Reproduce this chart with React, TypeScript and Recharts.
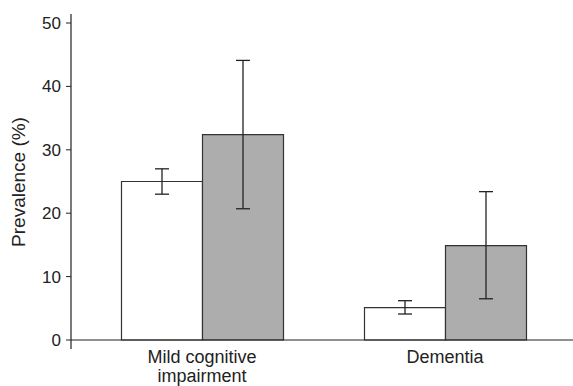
import React from "react";
import { BarChart, Bar, XAxis, YAxis, ErrorBar, ReferenceLine } from "recharts";

const categories = ["Mild cognitive impairment", "Dementia"];
const tickLines = [["Mild cognitive", "impairment"], ["Dementia"]];
const whiteValues = [25.0, 5.1];
const whiteErrLow = [2.0, 1.0];
const whiteErrHigh = [2.0, 1.1];
const greyValues = [32.4, 14.9];
const greyErrLow = [11.7, 8.4];
const greyErrHigh = [11.7, 8.5];
const yTicks = [0, 10, 20, 30, 40, 50];

const data = categories.map((name, i) => ({
  name,
  white: whiteValues[i],
  whiteErr: [whiteErrLow[i], whiteErrHigh[i]],
  grey: greyValues[i],
  greyErr: [greyErrLow[i], greyErrHigh[i]],
}));

const FONT = "'Liberation Sans', Arial, Helvetica, sans-serif";

// two-line category labels, like the original figure
function CategoryTick(props: any) {
  const { x, y, index } = props;
  const lines = tickLines[index] || [];
  return (
    <text x={x} y={y + 14} textAnchor="middle" fill="#222" fontSize={18} fontFamily={FONT}>
      {lines.map((t, i) => (
        <tspan key={i} x={x} dy={i === 0 ? 0 : 19}>
          {t}
        </tspan>
      ))}
    </text>
  );
}

function YLabel() {
  return (
    <text
      x={18}
      y={182}
      transform="rotate(-90, 18, 182)"
      textAnchor="middle"
      dominantBaseline="central"
      fill="#222"
      fontSize={19}
      fontFamily={FONT}
    >
      Prevalence (%)
    </text>
  );
}

export default function App() {
  return (
    <div style={{ position: "absolute", left: 0, top: 0, background: "#fff" }}>
      <BarChart
        width={573}
        height={386}
        data={data}
        margin={{ top: 14, right: 0, bottom: 0, left: 11 }}
        barGap={0}
        barSize={81}
      >
        <XAxis
          dataKey="name"
          height={37}
          axisLine={false}
          tickLine={false}
          tickSize={0}
          tickMargin={0}
          padding={{ left: 9.5, right: 6.5 }}
          tick={<CategoryTick />}
          interval={0}
        />
        <YAxis
          width={60}
          domain={[0, 50]}
          ticks={yTicks}
          padding={{ top: 9, bottom: 9 }}
          axisLine={{ stroke: "#222", strokeWidth: 1.2 }}
          tickLine={{ stroke: "#222" }}
          tickSize={5}
          tickMargin={5}
          tick={{ fill: "#222", fontSize: 17, fontFamily: FONT }}
          label={{ content: () => <YLabel /> }}
        />
        <ReferenceLine y={0} stroke="#222" strokeWidth={1.2} />
        <Bar dataKey="white" fill="#ffffff" stroke="#333" strokeWidth={1.2} isAnimationActive={false}>
          <ErrorBar dataKey="whiteErr" width={7} stroke="#222" strokeWidth={1.3} />
        </Bar>
        <Bar dataKey="grey" fill="#adadad" stroke="#333" strokeWidth={1.2} isAnimationActive={false}>
          <ErrorBar dataKey="greyErr" width={7} stroke="#222" strokeWidth={1.3} />
        </Bar>
      </BarChart>
    </div>
  );
}
